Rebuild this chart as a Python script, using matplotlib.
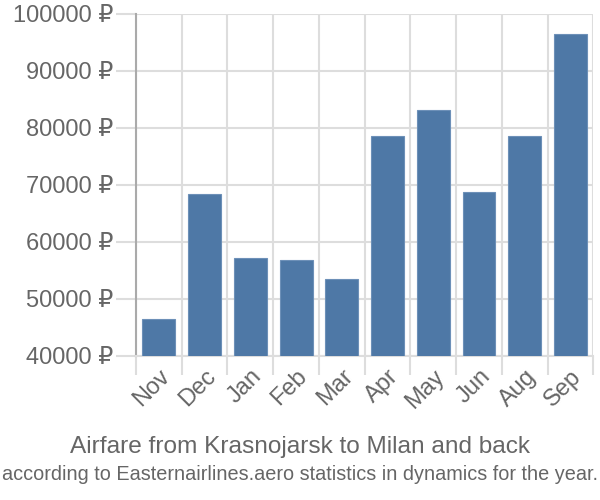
import matplotlib
matplotlib.use("Agg")
import matplotlib.pyplot as plt
import numpy as np

months = ["Nov", "Dec", "Jan", "Feb", "Mar", "Apr", "May", "Jun", "Aug", "Sep"]
prices = [46400, 68400, 57100, 56800, 53500, 78500, 83100, 68700, 78500, 96400]
yticks = [40000, 50000, 60000, 70000, 80000, 90000, 100000]
title = "Airfare from Krasnojarsk to Milan and back"
subtitle = "according to Easternairlines.aero statistics in dynamics for the year."

plt.rcParams['font.family'] = ['Liberation Sans', 'DejaVu Sans']
txt = '#666666'

fig = plt.figure(figsize=(6, 5), dpi=100)
ax = fig.add_axes([136/600, 1-355.7/500, (593.3-136)/600, (355.7-13.7)/500])

x = np.arange(len(months))
ax.bar(x, prices, width=0.72, bottom=0, color='#4e78a6', edgecolor='#6d90b8', linewidth=0.8, zorder=3)
ax.set_ylim(40000, 100000)
ax.set_xlim(-0.5, len(months)-0.5)

ax.set_yticks(yticks)
ax.set_yticklabels([f"{v} ₽" for v in yticks], color=txt, fontsize=17)
ax.set_xticks(x)
ax.set_xticklabels(months, rotation=45, ha='right', rotation_mode='anchor', color=txt, fontsize=17)
ax.set_xticks(np.arange(len(months)+1)-0.5, minor=True)

ax.tick_params(axis='y', length=14.4, width=1.5, color='#dddddd', pad=2)
ax.tick_params(axis='x', which='major', length=0, pad=7)
ax.tick_params(axis='x', which='minor', length=13.5, width=1.5, color='#dddddd')

ax.grid(axis='y', which='major', color='#dddddd', linewidth=1.5, zorder=0)
ax.grid(axis='x', which='minor', color='#dddddd', linewidth=1.5, zorder=0)

for s in ['top', 'right']:
    ax.spines[s].set_visible(False)
ax.spines['bottom'].set_color('#dddddd')
ax.spines['bottom'].set_linewidth(1.5)
ax.spines['left'].set_color('#aaaaaa')
ax.spines['left'].set_linewidth(1.5)
ax.spines['left'].set_bounds(40000, 100000)

fig.text(0.5, 1-453/500, title, ha='center', va='baseline', color=txt, fontsize=17.6)
fig.text(0.5, 1-480/500, subtitle, ha='center', va='baseline', color=txt, fontsize=14.3)

fig.savefig('out.png', dpi=100, facecolor='white')
